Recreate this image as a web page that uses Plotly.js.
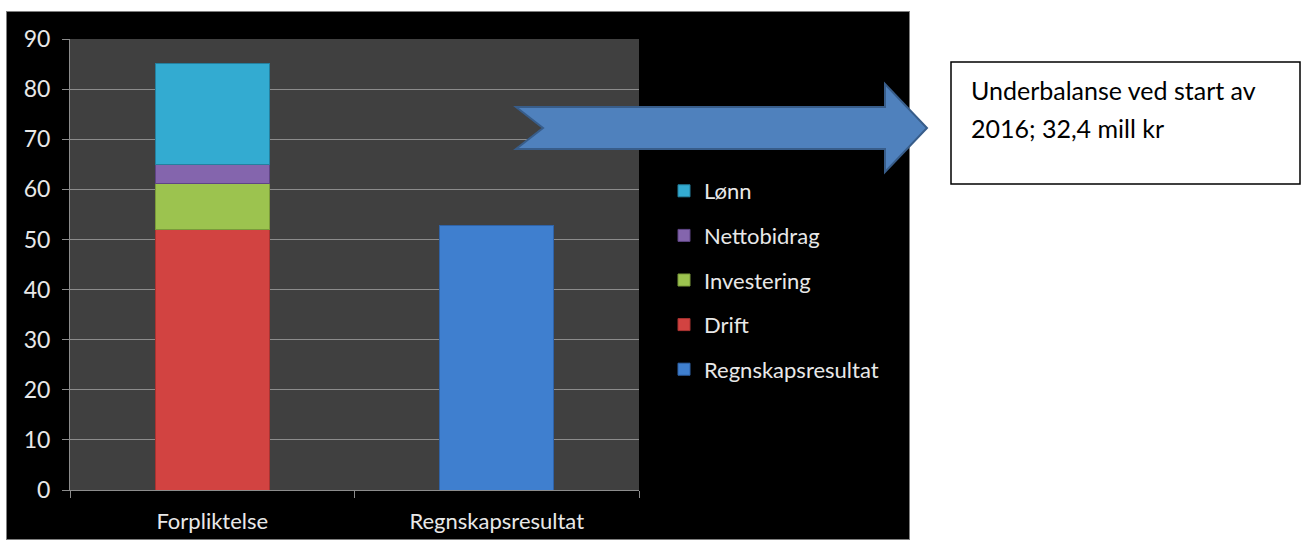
<!DOCTYPE html>
<html>
<head>
<meta charset="utf-8">
<script src="https://cdn.plot.ly/plotly-3.0.1.min.js"></script>
<style>
  html, body { margin:0; padding:0; background:#ffffff; width:1301px; height:548px; overflow:hidden; }
  #bg { position:absolute; left:6px; top:11px; width:904px; height:529px; background:#000000; border:1px solid #7f7f7f; box-sizing:border-box; }
  #chart { position:absolute; left:0; top:0; width:1301px; height:548px; }
</style>
</head>
<body>
<div id="bg"></div>
<div id="chart"></div>
<script>
// ---- data ----
const categories = ['Forpliktelse', 'Regnskapsresultat'];
const seriesNames = ['Regnskapsresultat', 'Drift', 'Investering', 'Nettobidrag', 'Lønn'];
const regnskapsresultat = [null, 52.8];
const drift = [52.0, null];
const investering = [9.2, null];
const nettobidrag = [3.8, null];
const lonn = [20.2, null];
const yTicks = [0, 10, 20, 30, 40, 50, 60, 70, 80, 90];
const noteLines = ['Underbalanse ved start av', '2016; 32,4 mill kr'];

// ---- styles ----
const seriesValues = [regnskapsresultat, drift, investering, nettobidrag, lonn];
const legendRanks = [5, 4, 3, 2, 1];
const fills = ['#3f7fcf', '#d24341', '#9cc34f', '#8465ad', '#33abd1'];
const edges = ['#2f63a8', '#a83331', '#7a9a3a', '#5f4585', '#24809f'];

const W = 1301, H = 548;
const plotL = 70, plotR = 639, plotT = 39, plotB = 490;
const px = x => (x - plotL) / (plotR - plotL);
const py = y => (plotB - y) / (plotB - plotT);

const traces = seriesNames.map((name, i) => ({
  type: 'bar',
  name: name,
  x: categories,
  y: seriesValues[i],
  legendgroup: 'g' + i,
  legendrank: legendRanks[i],
  marker: { color: fills[i], line: { color: edges[i], width: 1 } },
  hoverinfo: 'name+y'
}));

const arrowPts = [[516,107],[885,107],[885,84],[927,128],[885,172],[885,149],[516,149],[543,128]];
const arrowPath = 'M' + arrowPts.map(p => px(p[0]).toFixed(5) + ',' + py(p[1]).toFixed(5)).join(' L') + ' Z';

const font = 'Lato, "Open Sans", sans-serif';
const layout = {
  width: W, height: H,
  margin: { l: plotL, r: W - plotR, t: plotT, b: H - plotB, pad: 0 },
  paper_bgcolor: 'rgba(0,0,0,0)',
  plot_bgcolor: '#404040',
  barmode: 'stack',
  bargap: 0.6,
  showlegend: true,
  legend: {
    x: px(664), y: py(170), xanchor: 'left', yanchor: 'top',
    bgcolor: 'rgba(0,0,0,0)',
    font: { family: font, size: 22, color: '#e8e8e8' },
    traceorder: 'grouped',
    tracegroupgap: 13
  },
  xaxis: {
    type: 'category',
    range: [-0.5, 1.5],
    showgrid: false, zeroline: false,
    showline: true, linecolor: '#8c8c8c', linewidth: 1,
    ticks: 'outside', tickson: 'boundaries', ticklen: 7, tickcolor: '#8c8c8c',
    tickfont: { family: font, size: 22, color: '#e8e8e8' },
    ticklabelstandoff: 12,
    fixedrange: true
  },
  yaxis: {
    range: [0, 90],
    tickvals: yTicks,
    ticktext: yTicks.map(String),
    showgrid: true, gridcolor: '#8c8c8c', gridwidth: 1,
    zeroline: false,
    showline: true, linecolor: '#8c8c8c', linewidth: 1,
    ticks: 'outside', ticklen: 7, tickcolor: '#8c8c8c',
    tickfont: { family: font, size: 23, color: '#e8e8e8' },
    ticklabelstandoff: 7,
    fixedrange: true
  },
  shapes: [
    { type: 'path', xref: 'paper', yref: 'paper', path: arrowPath, layer: 'above',
      fillcolor: '#4f81bd', line: { color: '#385d8a', width: 2 } },
    { type: 'rect', xref: 'paper', yref: 'paper', layer: 'above',
      x0: px(951), x1: px(1300), y0: py(62), y1: py(184),
      fillcolor: '#ffffff', line: { color: '#000000', width: 1.5 } }
  ],
  annotations: noteLines.map((t, i) => ({
    xref: 'paper', yref: 'paper', x: px(969), y: py(90 + i * 38),
    xanchor: 'left', yanchor: 'middle', showarrow: false, align: 'left',
    text: t, font: { family: font, size: 25, color: '#000000' }
  }))
};

Plotly.newPlot('chart', traces, layout, { displayModeBar: false, staticPlot: true });
</script>
</body>
</html>
